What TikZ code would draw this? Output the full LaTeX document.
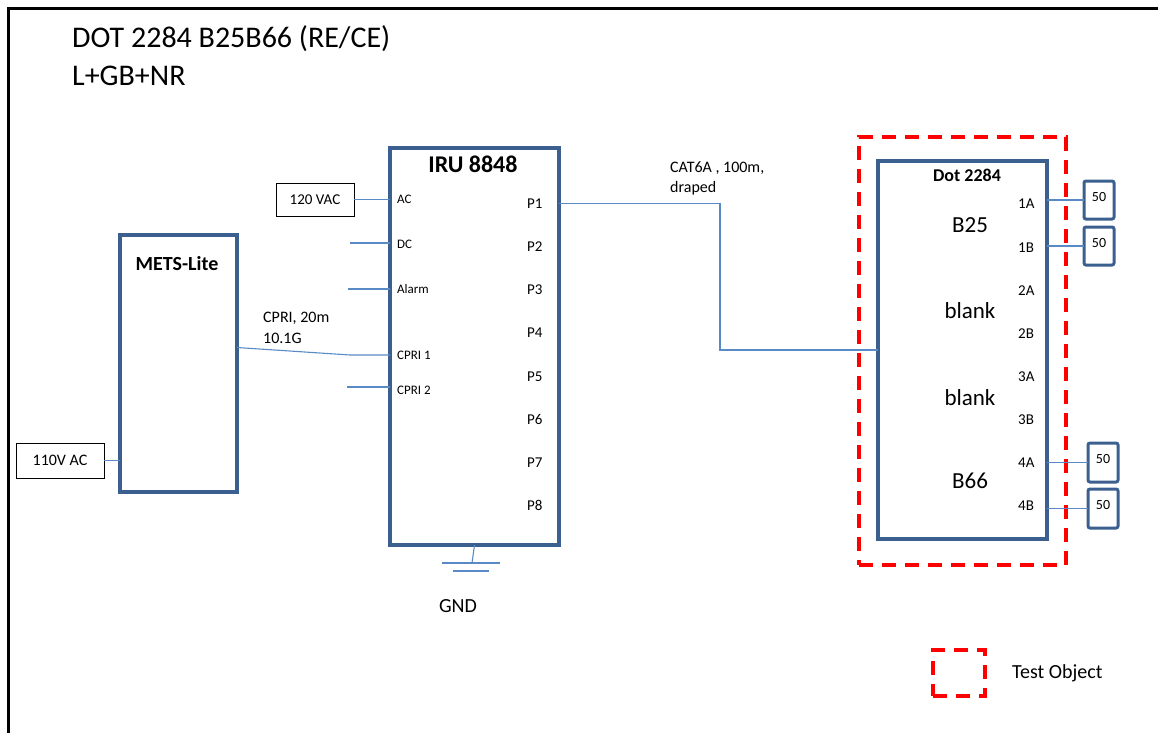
\documentclass[tikz,border=0pt]{standalone}
\usepackage{fontspec}
\setmainfont{Carlito}
\usepackage{tikz}
\usetikzlibrary{positioning, calc}

\definecolor{boxblue}{HTML}{3B5F8F}
\definecolor{wireblue}{HTML}{5A8AC6}

\begin{document}
\begin{tikzpicture}[
    x=1pt, y=-1pt,
    unit/.style={
        rectangle, draw=boxblue, line width=3.5pt,
        anchor=north west, inner sep=0pt, outer sep=0pt
    },
    supply/.style={
        rectangle, draw=black, line width=0.8pt,
        anchor=north west, inner sep=0pt, outer sep=0pt,
        font=\fontsize{15}{18}\selectfont
    },
    load/.style={
        rectangle, draw=boxblue, line width=3pt, rounded corners=2pt,
        anchor=north west, inner sep=0pt, outer sep=0pt,
        minimum width=30pt, minimum height=38pt,
        text height=9pt, text depth=7pt, font=\fontsize{14}{16}\selectfont
    },
    testbox/.style={
        rectangle, draw=red, line width=4pt, dash pattern=on 14pt off 9pt,
        anchor=north west, inner sep=0pt, outer sep=0pt
    },
    boxtitle/.style={anchor=base, inner sep=0pt, font=\bfseries\fontsize{#1}{#1}\selectfont},
    band/.style={anchor=base, inner sep=0pt, font=\fontsize{23}{26}\selectfont},
    port/.style={anchor=base west, inner sep=0pt, font=\fontsize{13}{15}\selectfont},
    pin/.style={anchor=base west, inner sep=0pt, font=\fontsize{15}{18}\selectfont},
    note/.style={anchor=base west, inner sep=0pt, font=\fontsize{16}{19}\selectfont},
    wire/.style={draw=wireblue, line width=1.1pt}
]

\useasboundingbox (0,0) rectangle (1158,732);

% Page frame
\draw[line width=3pt] (1160,8) -- (8,8) -- (8,734);

% Title
\node[anchor=base west, inner sep=0pt, font=\fontsize{30}{36}\selectfont] (title) at (72,47) {DOT 2284 B25B66 (RE/CE)};
\node[anchor=base west, inner sep=0pt, font=\fontsize{30}{36}\selectfont] (subtitle) at (72,85) {L+GB+NR};

% ---- METS-Lite ----
\node[unit, minimum width=117pt, minimum height=257pt] (mets) at (120,235) {};
\node[boxtitle=20] (metstitle) at (177,270) {METS-Lite};
\node[supply, minimum width=88pt, minimum height=35pt, font=\fontsize{16}{18}\selectfont] (vac110) at (16,443) {110V AC};

% ---- IRU 8848 ----
\node[unit, minimum width=169pt, minimum height=397pt] (iru) at (390,148) {};
\node[boxtitle=24] (irutitle) at (473,172) {IRU 8848};
\node[supply, minimum width=78pt, minimum height=33pt] (vac120) at (276,183) {120 VAC};

% IRU inputs
\node[port] (ac) at (397,203) {AC};
\node[port] (dc) at (397,248) {DC};
\node[port] (alarm) at (397,293) {Alarm};
\node[port] (cpri1) at (397,359) {CPRI 1};
\node[port] (cpri2) at (397,394) {CPRI 2};

% IRU outputs
\node[pin] (p1) at (527,208) {P1};
\node[pin] (p2) at (527,251) {P2};
\node[pin] (p3) at (527,294) {P3};
\node[pin] (p4) at (527,337) {P4};
\node[pin] (p5) at (527,381) {P5};
\node[pin] (p6) at (527,424) {P6};
\node[pin] (p7) at (527,467) {P7};
\node[pin] (p8) at (527,510) {P8};

% ---- Dot 2284 (test object) ----
\node[testbox, minimum width=207pt, minimum height=428pt] (test) at (859,137) {};
\node[unit, minimum width=169pt, minimum height=378pt] (dot) at (878,161) {};
\node[boxtitle=18] (dottitle) at (967,181) {Dot 2284};

\node[band] (b25) at (970,232) {B25};
\node[band] (blank1) at (970,318) {blank};
\node[band] (blank2) at (970,405) {blank};
\node[band] (b66) at (970,488) {B66};

\node[pin] (p1a) at (1018,208) {1A};
\node[pin] (p1b) at (1018,252) {1B};
\node[pin] (p2a) at (1018,295) {2A};
\node[pin] (p2b) at (1018,338) {2B};
\node[pin] (p3a) at (1018,381) {3A};
\node[pin] (p3b) at (1018,424) {3B};
\node[pin] (p4a) at (1018,467) {4A};
\node[pin] (p4b) at (1018,510) {4B};

% Terminations
\node[load] (l1a) at (1084,181) {50};
\node[load] (l1b) at (1084,227) {50};
\node[load, minimum height=39pt] (l4a) at (1088,443) {50};
\node[load, minimum height=39pt] (l4b) at (1088,489) {50};

% Free ends and bends
\coordinate (dcfree) at (350,243);
\coordinate (alarmfree) at (348,289);
\coordinate (cpri2free) at (347,387);
\coordinate (cpribend) at (350,355);
\coordinate (drape) at (720,350);
\coordinate (gndfoot) at (472,563);

% Connections
\draw[wire] (vac110.east) -- (vac110.east -| mets.west);
\draw[wire] (vac120.east) -- (vac120.east -| iru.west);
\draw[wire] (dcfree) -- (dcfree -| iru.west);
\draw[wire] (alarmfree) -- (alarmfree -| iru.west);
\draw[wire] (cpri2free) -- (cpri2free -| iru.west);
\draw[wire] ([yshift=16pt]mets.east) -- (cpribend) -- (cpribend -| iru.west);
\draw[wire] (p1.center -| iru.east) -| (drape) -- (dot.west);

\draw[wire] (l1a.west -| dot.east) -- (l1a.west);
\draw[wire] (l1b.west -| dot.east) -- (l1b.west);
\draw[wire] (l4a.west -| dot.east) -- (l4a.west);
\draw[wire] (l4b.west -| dot.east) -- (l4b.west);

% Ground
\draw[wire] (iru.south) -- (gndfoot);
\draw[wire] ([xshift=-30pt]gndfoot) -- ([xshift=28pt]gndfoot);
\draw[wire] ([xshift=-19pt,yshift=-8pt]gndfoot) -- ([xshift=17pt,yshift=-8pt]gndfoot);
\node[anchor=base, inner sep=0pt, font=\fontsize{20}{24}\selectfont] (gnd) at (458,612) {GND};

% Cable notes
\node[note] (cprinote) at (263,322) {CPRI, 20m};
\node[note] (cprirate) at (263,343) {10.1G};
\node[note] (catnote) at (670,172) {CAT6A , 100m,};
\node[note] (catdrape) at (670,192) {draped};

% Legend
\node[testbox, minimum width=52pt, minimum height=46pt] (legend) at (933,650) {};
\node[anchor=base west, inner sep=0pt, font=\fontsize{20}{24}\selectfont] (legendtext) at (1012,678) {Test Object};

\end{tikzpicture}
\end{document}
